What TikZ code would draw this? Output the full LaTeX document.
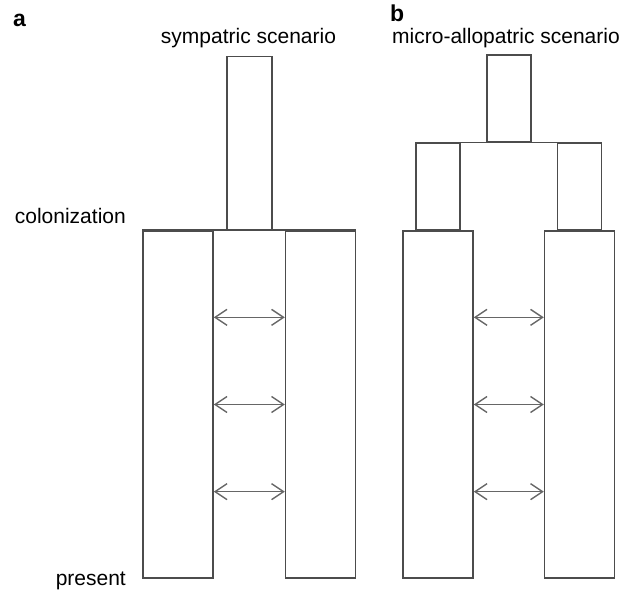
\documentclass[tikz,border=0pt]{standalone}
\usepackage{fontspec}
\setmainfont{Liberation Sans}
\usetikzlibrary{arrows.meta, calc, positioning}
\tikzset{
>={Straight Barb[length=12pt,width=16pt]}, % open arrow heads
bar/.style={draw=black!70, line width=1.6pt, inner sep=0pt, minimum width=70pt, minimum height=347pt},
stem/.style={draw=black!70, line width=1.6pt, inner sep=0pt, minimum width=45pt},
flow/.style={<->, draw=black!60, line width=1.4pt},
lbl/.style={inner sep=0pt, font=\fontsize{21}{24}\selectfont},
panel/.style={inner sep=0pt, font=\fontsize{23}{26}\selectfont\bfseries},
}
\begin{document}
\begin{tikzpicture}[x=1pt,y=-1pt]
  \useasboundingbox (0,0) rectangle (633,590);
  % panel a: sympatric
  \node[bar] (L1) at (178,404.5) {};
  \node[bar, right=71pt of L1] (R1) {};
  \coordinate (c1) at ($(L1.north east)!0.5!(R1.north west)$);
  \node[stem, minimum height=173pt, above=0pt of c1] (T1) {};
  \draw[draw=black!70, line width=1.6pt] (L1.north west) -- (R1.north east);
  \foreach \f in {0.25,0.5,0.75}
    \draw[flow] ($(L1.north east)!\f!(L1.south east)$) -- ($(R1.north west)!\f!(R1.south west)$);

  % panel b: micro-allopatric
  \node[bar] (L2) at (438,404.5) {};
  \node[bar, right=70pt of L2] (R2) {};
  \node[stem, minimum width=44pt, minimum height=86pt, above=0pt of L2] (ML) {};
  \node[stem, minimum width=44pt, minimum height=86pt, above=0pt of R2] (MR) {};
  \coordinate (c2) at ($(ML.north)!0.5!(MR.north)$);
  \node[stem, minimum width=44pt, minimum height=87pt, above=0pt of c2] (T2) {};
  \draw[draw=black!70, line width=1.6pt] (ML.north west) -- (MR.north east);
  \foreach \f in {0.25,0.5,0.75}
    \draw[flow] ($(L2.north east)!\f!(L2.south east)$) -- ($(R2.north west)!\f!(R2.south west)$);

  % labels
  \node[panel, anchor=base west] (pa) at (13,26) {a};
  \node[panel, anchor=base west] (pb) at (390,21) {b};
  \node[lbl, anchor=base] (ta) at (248.5,43) {sympatric scenario};
  \node[lbl, anchor=base] (tb) at (506,43) {micro-allopatric scenario};
  \node[lbl, anchor=base east] (col) at (126,223) {colonization};
  \node[lbl, anchor=base east] (pre) at (126,585) {present};
\end{tikzpicture}
\end{document}
